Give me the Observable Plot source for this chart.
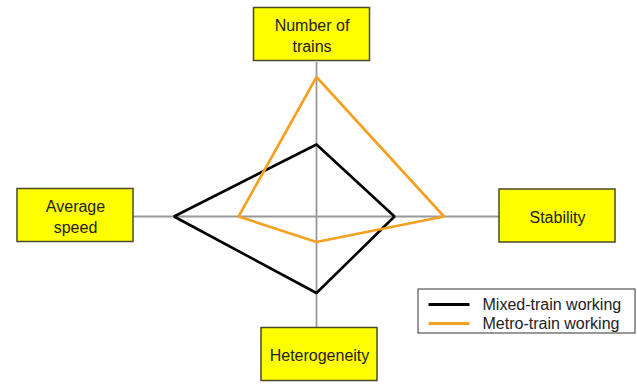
<!DOCTYPE html>
<html>
<head>
<meta charset="utf-8">
<script src="https://cdn.jsdelivr.net/npm/d3@7"></script>
<script src="https://cdn.jsdelivr.net/npm/@observablehq/plot@0.6"></script>
<style>
  html, body { margin: 0; padding: 0; background: #fff; }
  #chart svg { display: block; }
</style>
</head>
<body>
<div id="chart"></div>
<script>
// ---- data ----
const axes = ["Number of trains", "Stability", "Heterogeneity", "Average speed"];
const axisLabels = ["Number of\ntrains", "Stability", "Heterogeneity", "Average\nspeed"];
const series = ["Mixed-train working", "Metro-train working"];
const mixedValues = [4.8, 5.2, 5.1, 9.5];
const metroValues = [9.3, 8.5, 1.7, 5.2];
const seriesColors = ["#000000", "#f5a020"];

// ---- layout (pixels) ----
const W = 637, H = 384;
const cx = 316, cy = 216, pxPerUnit = 15;
const angles = [90, 0, -90, 180];           // direction of each axis
const axisLength = [10.3, 12.2, 7.4, 12.2]; // units to the label boxes
const boxCenters = [[311.5, 34], [557, 215.5], [319, 354], [75, 215]];
const boxW = 116, boxH = 53;
const ux = px => (px - cx) / pxPerUnit;
const uy = py => (cy - py) / pxPerUnit;

const rad = a => a * Math.PI / 180;
const polar = (v, i) => ({x: v * Math.cos(rad(angles[i])), y: v * Math.sin(rad(angles[i]))});

const polyData = [];
[mixedValues, metroValues].forEach((vals, s) => {
  vals.forEach((v, i) => polyData.push({series: series[s], axis: axes[i], value: v, ...polar(v, i)}));
});

const axisData = axes.map((a, i) => ({axis: a, ...polar(axisLength[i], i)}));
const boxData = axes.map((a, i) => ({
  label: axisLabels[i],
  x1: ux(boxCenters[i][0] - boxW / 2), x2: ux(boxCenters[i][0] + boxW / 2),
  y1: uy(boxCenters[i][1] - boxH / 2), y2: uy(boxCenters[i][1] + boxH / 2),
  x: ux(boxCenters[i][0]), y: uy(boxCenters[i][1])
}));

// legend
const legBox = {x1: ux(418), x2: ux(635), y1: uy(289), y2: uy(333)};
const legRows = series.map((s, i) => ({
  series: s, color: seriesColors[i],
  x1: ux(428), x2: ux(469), y: uy(304 + i * 19), tx: ux(482)
}));

const font = "'Liberation Sans', Arial, sans-serif";

const chart = Plot.plot({
  width: W, height: H,
  margin: 0,
  style: {fontFamily: font, background: "#fff"},
  x: {domain: [-10, 10], range: [cx - 150, cx + 150], axis: null},
  y: {domain: [-10, 10], range: [cy + 150, cy - 150], axis: null},
  color: {domain: series, range: seriesColors},
  marks: [
    Plot.link(axisData, {x1: 0, y1: 0, x2: "x", y2: "y", stroke: "#999", strokeWidth: 1.8}),
    Plot.line(polyData.filter(d => d.series === series[0]), {x: "x", y: "y", curve: "linear-closed", stroke: seriesColors[0], strokeWidth: 2.6, strokeLinejoin: "miter"}),
    Plot.line(polyData.filter(d => d.series === series[1]), {x: "x", y: "y", curve: "linear-closed", stroke: seriesColors[1], strokeWidth: 2.6, strokeLinejoin: "miter"}),
    Plot.rect(boxData, {x1: "x1", x2: "x2", y1: "y1", y2: "y2", fill: "#ffff00", stroke: "#4a4a2a", strokeWidth: 1.5}),
    Plot.text(boxData, {x: "x", y: "y", text: "label", fontSize: 16, fill: "#222", lineHeight: 1.3}),
    Plot.rect([legBox], {x1: "x1", x2: "x2", y1: "y1", y2: "y2", fill: "#fff", stroke: "#333", strokeWidth: 1}),
    Plot.link(legRows, {x1: "x1", x2: "x2", y1: "y", y2: "y", stroke: "color", strokeWidth: 3}),
    Plot.text(legRows, {x: "tx", y: "y", text: "series", textAnchor: "start", fontSize: 16, fill: "#222"})
  ]
});
document.getElementById("chart").appendChild(chart);
</script>
</body>
</html>
